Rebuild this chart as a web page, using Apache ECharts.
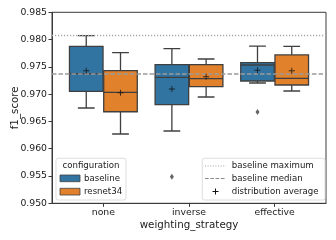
<!DOCTYPE html>
<html>
<head>
<meta charset="utf-8">
<script src="https://cdn.jsdelivr.net/npm/echarts@6/dist/echarts.min.js"></script>
<style>html,body{margin:0;padding:0;background:#fff}#c{width:336px;height:240px}</style>
</head>
<body>
<div id="c"></div>
<script>
const categories = ['none', 'inverse', 'effective'];
const yTicks = [0.950, 0.955, 0.960, 0.965, 0.970, 0.975, 0.980, 0.985];

const baselineLow    = [0.96746, 0.96325, 0.97204];
const baselineQ1     = [0.97052, 0.96807, 0.97241];
const baselineMedian = [0.97375, 0.97309, 0.97534];
const baselineQ3     = [0.97877, 0.97540, 0.97576];
const baselineHigh   = [0.98071, 0.97833, 0.97882];
const baselineMean   = [0.97430, 0.97094, 0.97437];
const baselineOutliers = [[1, 0.95487], [2, 0.96673]];

const resnetLow    = [0.96270, 0.96948, 0.97058];
const resnetQ1     = [0.96678, 0.97137, 0.97168];
const resnetMedian = [0.97034, 0.97283, 0.97291];
const resnetQ3     = [0.97430, 0.97540, 0.97718];
const resnetHigh   = [0.97760, 0.97644, 0.97877];
const resnetMean   = [0.97027, 0.97320, 0.97430];
const resnetOutliers = [];

const refBaselineMaximum = 0.98071;
const refBaselineMedian = 0.97375;

const BLUE = '#3274a1', ORANGE = '#e1812c', EDGE = '#3f3f3f', TXT = '#1a1a1a';
const FONT = 'DejaVu Sans';
const OFF = 0.2, HW = 0.196;

function boxData(low, q1, med, q3, high, off) {
  return categories.map((c, i) => [i + off, low[i], q1[i], med[i], q3[i], high[i]]);
}
function meanData(mean, off) { return categories.map((c, i) => [i + off, mean[i]]); }
function outData(outs, off) { return outs.map(o => [o[0] + off, o[1]]); }

function renderBox(color) {
  return function (params, api) {
    const x = api.value(0);
    const low = api.value(1), q1 = api.value(2), med = api.value(3), q3 = api.value(4), high = api.value(5);
    const pc = (xx, yy) => api.coord([xx, yy]);
    const c = pc(x, med);
    const l = pc(x - HW, q3), r = pc(x + HW, q1);
    const capL = pc(x - HW / 2, med)[0], capR = pc(x + HW / 2, med)[0];
    const yLow = pc(x, low)[1], yHigh = pc(x, high)[1], yQ1 = r[1], yQ3 = l[1], yMed = c[1];
    const ls = { stroke: EDGE, lineWidth: 1.3 };
    return {
      type: 'group',
      children: [
        { type: 'line', shape: { x1: c[0], y1: yQ1, x2: c[0], y2: yLow }, style: ls },
        { type: 'line', shape: { x1: c[0], y1: yQ3, x2: c[0], y2: yHigh }, style: ls },
        { type: 'line', shape: { x1: capL, y1: yLow, x2: capR, y2: yLow }, style: ls },
        { type: 'line', shape: { x1: capL, y1: yHigh, x2: capR, y2: yHigh }, style: ls },
        { type: 'rect', shape: { x: l[0], y: yQ3, width: r[0] - l[0], height: yQ1 - yQ3 }, style: { fill: color, stroke: EDGE, lineWidth: 1.3 } },
        { type: 'line', shape: { x1: l[0], y1: yMed, x2: r[0], y2: yMed }, style: ls }
      ]
    };
  };
}

const PLUS = 'path://M4.2,0H5.8V10H4.2ZM0,4.2H10V5.8H0Z';

const chart = echarts.init(document.getElementById('c'), null, { renderer: 'canvas' });

const legendText = { fontFamily: FONT, fontSize: 8.6, fill: TXT };
const graphics = [
  { type: 'rect', shape: { x: 56, y: 158.3, width: 70, height: 41.7, r: 2 }, style: { fill: 'rgba(255,255,255,0.8)', stroke: '#d4d4d4', lineWidth: 0.8 }, z: 100 },
  { type: 'text', x: 91, y: 166, style: Object.assign({ text: 'configuration', align: 'center', verticalAlign: 'middle' }, legendText), z: 101 },
  { type: 'rect', shape: { x: 60, y: 175, width: 20, height: 6.7 }, style: { fill: BLUE, stroke: EDGE, lineWidth: 0.8 }, z: 101 },
  { type: 'rect', shape: { x: 60, y: 188.3, width: 20, height: 6.7 }, style: { fill: ORANGE, stroke: EDGE, lineWidth: 0.8 }, z: 101 },
  { type: 'text', x: 84, y: 178.5, style: Object.assign({ text: 'baseline', align: 'left', verticalAlign: 'middle' }, legendText), z: 101 },
  { type: 'text', x: 84, y: 191.5, style: Object.assign({ text: 'resnet34', align: 'left', verticalAlign: 'middle' }, legendText), z: 101 },

  { type: 'rect', shape: { x: 202.3, y: 158.3, width: 122.7, height: 41.7, r: 2 }, style: { fill: 'rgba(255,255,255,0.8)', stroke: '#d4d4d4', lineWidth: 0.8 }, z: 100 },
  { type: 'line', shape: { x1: 205, y1: 166, x2: 226, y2: 166 }, style: { stroke: '#a0a0a0', lineWidth: 1, lineDash: [1, 1.6] }, z: 101 },
  { type: 'line', shape: { x1: 205, y1: 178.5, x2: 226, y2: 178.5 }, style: { stroke: '#8c8c8c', lineWidth: 1, lineDash: [3.7, 1.6] }, z: 101 },
  { type: 'line', shape: { x1: 212.5, y1: 191.5, x2: 218.5, y2: 191.5 }, style: { stroke: '#111', lineWidth: 1 }, z: 101 },
  { type: 'line', shape: { x1: 215.5, y1: 188.5, x2: 215.5, y2: 194.5 }, style: { stroke: '#111', lineWidth: 1 }, z: 101 },
  { type: 'text', x: 231.7, y: 166, style: Object.assign({ text: 'baseline maximum', align: 'left', verticalAlign: 'middle' }, legendText), z: 101 },
  { type: 'text', x: 231.7, y: 178.5, style: Object.assign({ text: 'baseline median', align: 'left', verticalAlign: 'middle' }, legendText), z: 101 },
  { type: 'text', x: 231.7, y: 191.5, style: Object.assign({ text: 'distribution average', align: 'left', verticalAlign: 'middle' }, legendText), z: 101 }
];

chart.setOption({
  animation: false,
  backgroundColor: '#fff',
  grid: { left: 52, top: 12.3, right: 10, bottom: 36.7, containLabel: false, outerBoundsMode: 'none', show: true, borderColor: '#3a3a3a', borderWidth: 1, backgroundColor: 'transparent' },
  xAxis: {
    type: 'value', min: -0.6, max: 2.6,
    name: 'weighting_strategy', nameLocation: 'middle', nameGap: 17.5, nameMoveOverlap: false,
    nameTextStyle: { fontFamily: FONT, fontSize: 10.3, color: TXT },
    axisLine: { show: true, onZero: false, lineStyle: { color: '#3a3a3a', width: 1 } },
    axisTick: { show: true, length: 3.5, customValues: [0, 1, 2], lineStyle: { color: '#3a3a3a' } },
    axisLabel: { customValues: [0, 1, 2], formatter: v => categories[Math.round(v)], fontFamily: FONT, fontSize: 9.3, color: TXT, margin: 5 },
    splitLine: { show: false }
  },
  yAxis: {
    type: 'value', min: yTicks[0], max: yTicks[yTicks.length - 1], interval: 0.005,
    name: 'f1_score', nameLocation: 'middle', nameGap: 32, nameMoveOverlap: false,
    nameTextStyle: { fontFamily: FONT, fontSize: 10.3, color: TXT },
    axisLine: { show: true, onZero: false, lineStyle: { color: '#3a3a3a', width: 1 } },
    axisTick: { show: true, length: 3.5, lineStyle: { color: '#3a3a3a' } },
    axisLabel: { formatter: v => v.toFixed(3), fontFamily: FONT, fontSize: 9.3, color: TXT, margin: 5 },
    splitLine: { show: false }
  },
  graphic: graphics,
  series: [
    { name: 'baseline', type: 'custom', renderItem: renderBox(BLUE), data: boxData(baselineLow, baselineQ1, baselineMedian, baselineQ3, baselineHigh, -OFF), encode: { x: 0, y: [1, 2, 3, 4, 5] }, z: 2, clip: true },
    { name: 'resnet34', type: 'custom', renderItem: renderBox(ORANGE), data: boxData(resnetLow, resnetQ1, resnetMedian, resnetQ3, resnetHigh, OFF), encode: { x: 0, y: [1, 2, 3, 4, 5] }, z: 2, clip: true },
    {
      type: 'line', data: [], z: 5,
      markLine: {
        silent: true, symbol: 'none', precision: 6, label: { show: false },
        data: [
          { yAxis: refBaselineMaximum, lineStyle: { color: '#a8a8a8', width: 1.3, type: [1.2, 1.8] } },
          { yAxis: refBaselineMedian, lineStyle: { color: '#9a9a9a', width: 1.7, type: [4.5, 2] } }
        ]
      }
    },
    { type: 'scatter', data: meanData(baselineMean, -OFF), symbol: PLUS, symbolSize: 6, itemStyle: { color: '#111' }, z: 6 },
    { type: 'scatter', data: meanData(resnetMean, OFF), symbol: PLUS, symbolSize: 6, itemStyle: { color: '#111' }, z: 6 },
    { type: 'scatter', data: outData(baselineOutliers, -OFF), symbol: 'diamond', symbolSize: [4, 6], itemStyle: { color: '#3f3f3f' }, z: 6 },
    { type: 'scatter', data: outData(resnetOutliers, OFF), symbol: 'diamond', symbolSize: [4, 6], itemStyle: { color: '#3f3f3f' }, z: 6 }
  ]
});
</script>
</body>
</html>
